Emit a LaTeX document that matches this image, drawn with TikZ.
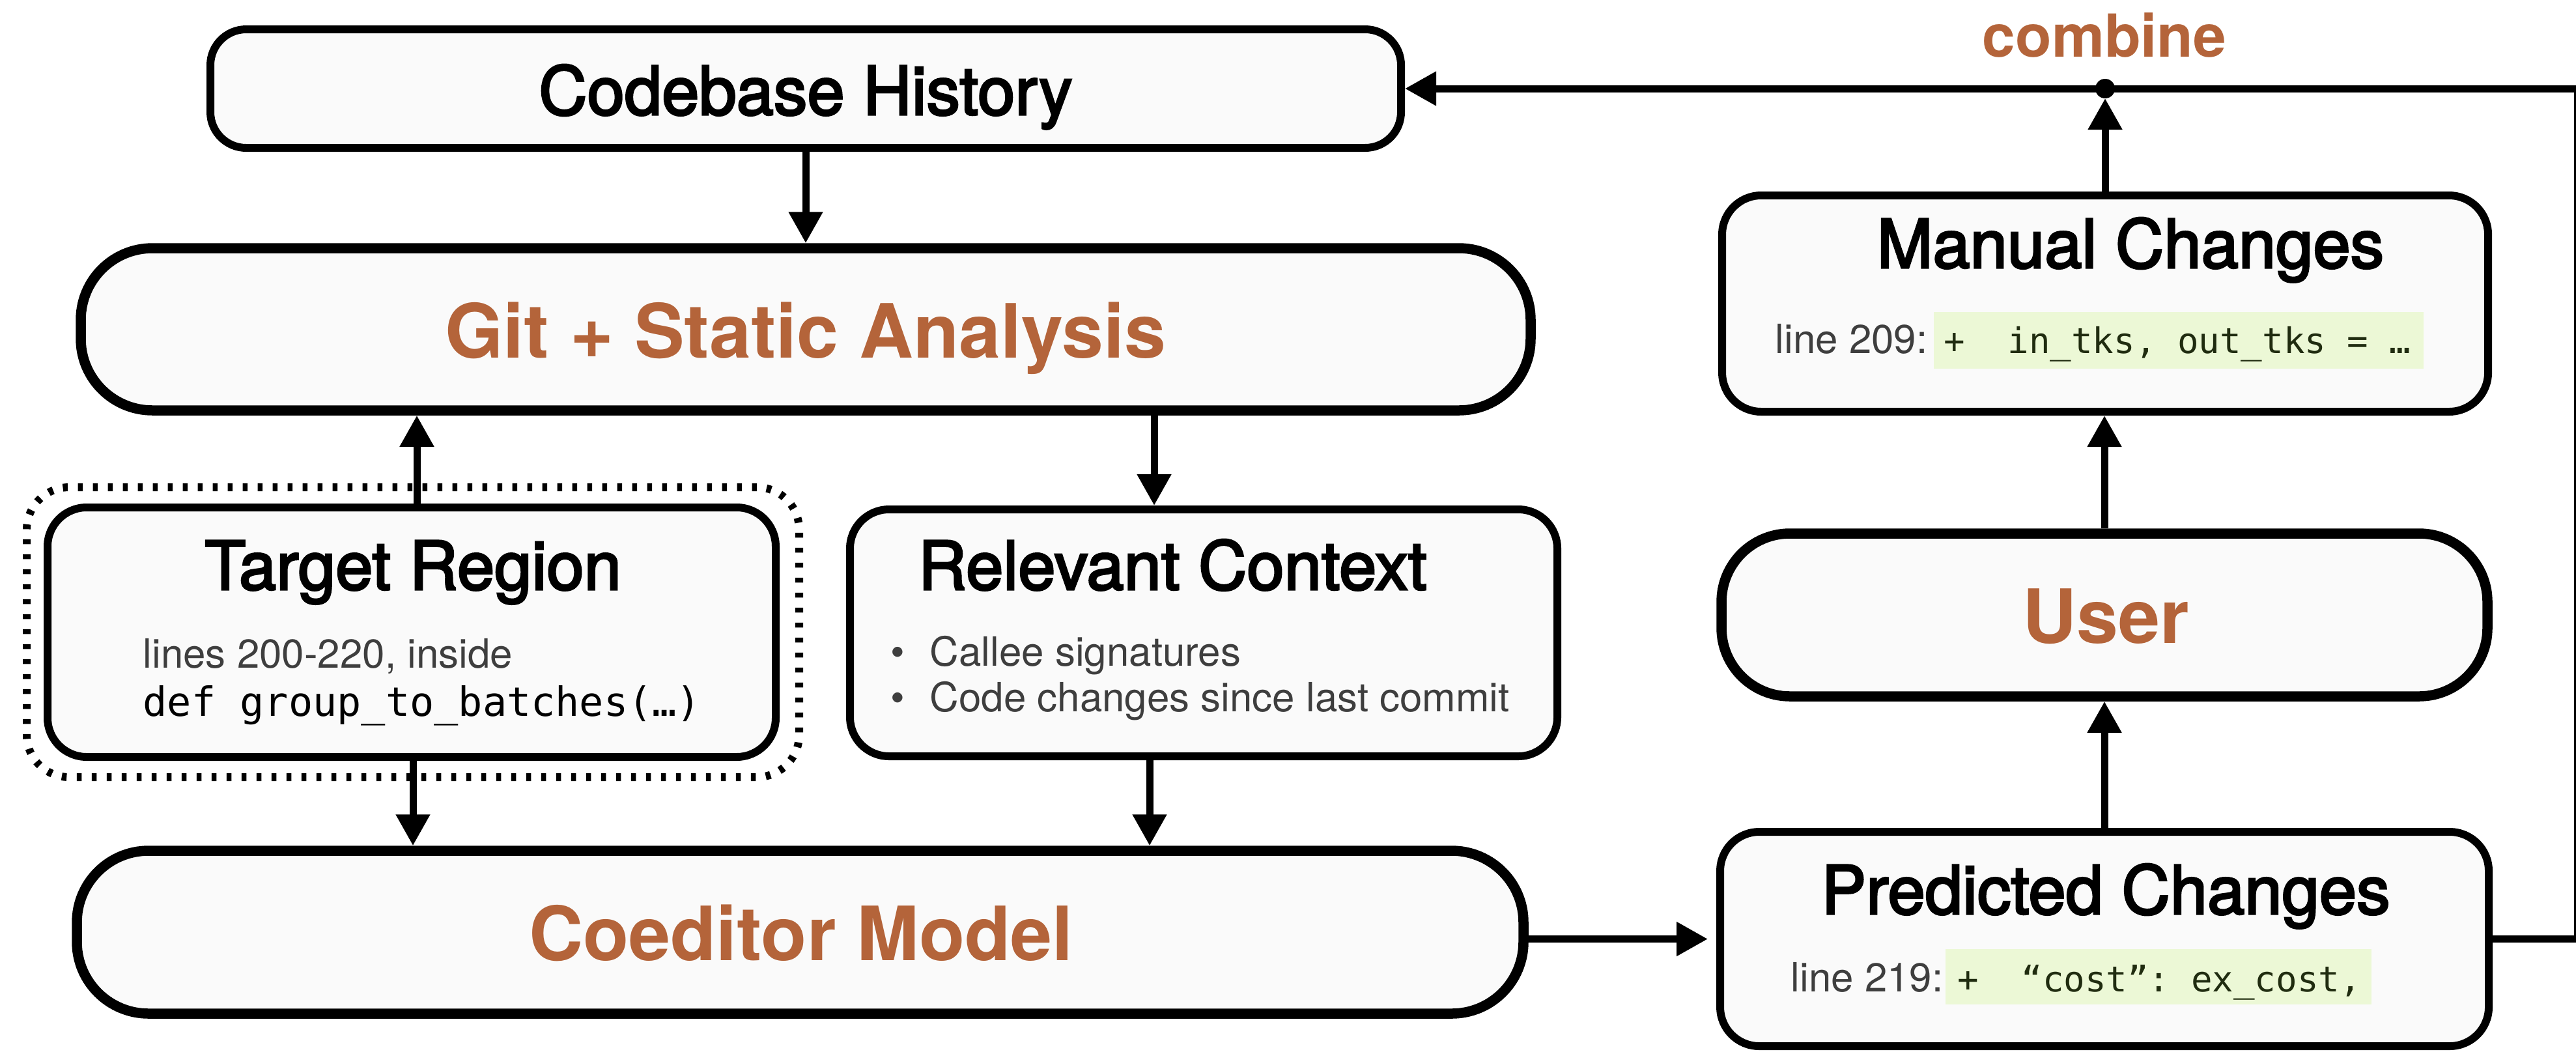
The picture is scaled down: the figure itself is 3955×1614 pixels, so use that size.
\documentclass[tikz,border=0pt]{standalone}
\usepackage{fontspec}
\setmainfont{TeX Gyre Heros}
\setmonofont{DejaVu Sans Mono}
\newfontfamily\medfont{TeX Gyre Heros}[FakeBold=3]
\usetikzlibrary{arrows.meta}
\definecolor{orng}{RGB}{180,100,58}
\definecolor{boxfill}{RGB}{250,250,250}
\definecolor{codebg}{RGB}{236,248,214}
\definecolor{codefg}{RGB}{32,44,16}
\definecolor{subgray}{RGB}{62,62,62}
\begin{document}
\begin{tikzpicture}[x=0.1mm,y=-0.1mm,
  box/.style={draw=black,fill=boxfill,line width=1.2mm,rounded corners=6mm,inner sep=0pt},
  bigbox/.style={box,line width=1.55mm,rounded corners=11mm},
  focusframe/.style={draw=black,line width=1.2mm,dash pattern=on 0.75mm off 1.55mm,rounded corners=6.5mm,inner sep=0pt},
  conn/.style={line width=1.1mm,-{Triangle[length=4.8mm,width=5mm]}},
  ttl/.style={inner sep=0pt,anchor=base,font=\medfont\fontsize{29.3pt}{34pt}\selectfont},
  big/.style={inner sep=0pt,anchor=base,text=orng,font=\bfseries\fontsize{32.7pt}{38pt}\selectfont},
  small/.style={inner sep=0pt,anchor=base west,text=subgray,font=\fontsize{17.6pt}{21pt}\selectfont},
  mono/.style={inner sep=0pt,anchor=base west,font=\ttfamily\fontsize{17.6pt}{21pt}\selectfont},
  code/.style={inner sep=0pt,anchor=base west,text=codefg,font=\ttfamily\fontsize{15.4pt}{18pt}\selectfont},
  codebox/.style={fill=codebg,inner sep=0pt}
]
\useasboundingbox (0,0) rectangle (3955,1614);

% boxes
\node[box,rounded corners=5.5mm,minimum width=182.8mm,minimum height=18.2mm] (code) at (1237,136) {};
\node[bigbox,minimum width=222.6mm,minimum height=24.9mm] (git) at (1237,505.5) {};
\node[focusframe,minimum width=118.6mm,minimum height=44.5mm] (focus) at (634,970.5) {};
\node[box,minimum width=111.8mm,minimum height=38.3mm] (target) at (632,970.5) {};
\node[box,minimum width=108.6mm,minimum height=37.9mm] (rel) at (1848,971.5) {};
\node[bigbox,minimum width=222.1mm,minimum height=25.0mm] (coed) at (1228.5,1431) {};
\node[box,minimum width=117.6mm,minimum height=33.2mm] (man) at (3232,466) {};
\node[bigbox,rounded corners=10.5mm,minimum width=117.6mm,minimum height=25.0mm] (user) at (3231,944) {};
\node[box,minimum width=118.0mm,minimum height=32.9mm] (pred) at (3231,1441.5) {};

% texts
\node[ttl] (tcode) at (1237,176) {Codebase History};
\node[big] (tgit) at (1237,549) {Git + Static Analysis};
\node[ttl] (ttarget) at (634,905) {Target Region};
\node[small] (tlines) at (219,1025) {lines 200-220, inside};
\node[mono] (tdef) at (219,1099) {def group\_to\_batches(…)};
\node[ttl,anchor=base west] (trel) at (1409,905) {Relevant Context};
\node[small] (b1) at (1367,1022) {•};
\node[small] (c1) at (1427,1022) {Callee signatures};
\node[small] (b2) at (1367,1092) {•};
\node[small] (c2) at (1427,1092) {Code changes since last commit};
\node[big] (tcoed) at (1230,1474) {Coeditor Model};
\node[ttl,anchor=base west] (tman) at (2881,411) {Manual Changes};
\node[codebox,minimum width=75.2mm,minimum height=8.7mm] (g1) at (3345,522) {};
\node[small] (l209) at (2725,542) {line 209:};
\node[code] (c209) at (2984,542) {+\ \ in\_tks,\ out\_tks\ =\ …};
\node[big] (tuser) at (3233,987) {User};
\node[ttl] (tpred) at (3233,1403) {Predicted Changes};
\node[codebox,minimum width=65.4mm,minimum height=8.5mm] (g2) at (3314,1499.5) {};
\node[small] (l219) at (2749,1522) {line 219:};
\node[code] (c219) at (3005,1522) {+\ \ “cost”:\ ex\_cost,};
\node[inner sep=0pt,anchor=base,text=orng,font=\bfseries\fontsize{25.9pt}{30pt}\selectfont] (tcomb) at (3231,87) {combine};

% connectors
\coordinate (comb) at (3232,136);
\coordinate (rt) at (3957,136);
\draw[conn] (code.south) -- (git.north);
\draw[conn] ([xshift=0.8mm]target.north) -- ([xshift=0.8mm]target.north |- git.south);
\draw[conn] ([xshift=-7.6mm]rel.north |- git.south) -- ([xshift=-7.6mm]rel.north);
\draw[conn] ([xshift=0.2mm]target.south) -- ([xshift=0.2mm]target.south |- coed.north);
\draw[conn] ([xshift=-8.3mm]rel.south) -- ([xshift=-8.3mm]rel.south |- coed.north);
\draw[conn,shorten >=1.3mm] (pred.west -| coed.east) -- (pred.west);
\draw[conn] (pred.north) -- (user.south);
\draw[conn] (user.north) -- (user.north |- man.south);
\draw[conn,shorten >=1.5mm] (man.north) -- (comb);
\draw[conn] (pred.east) -| (rt) -- (code.east);
\fill (comb) circle (1.5mm);
\end{tikzpicture}
\end{document}
